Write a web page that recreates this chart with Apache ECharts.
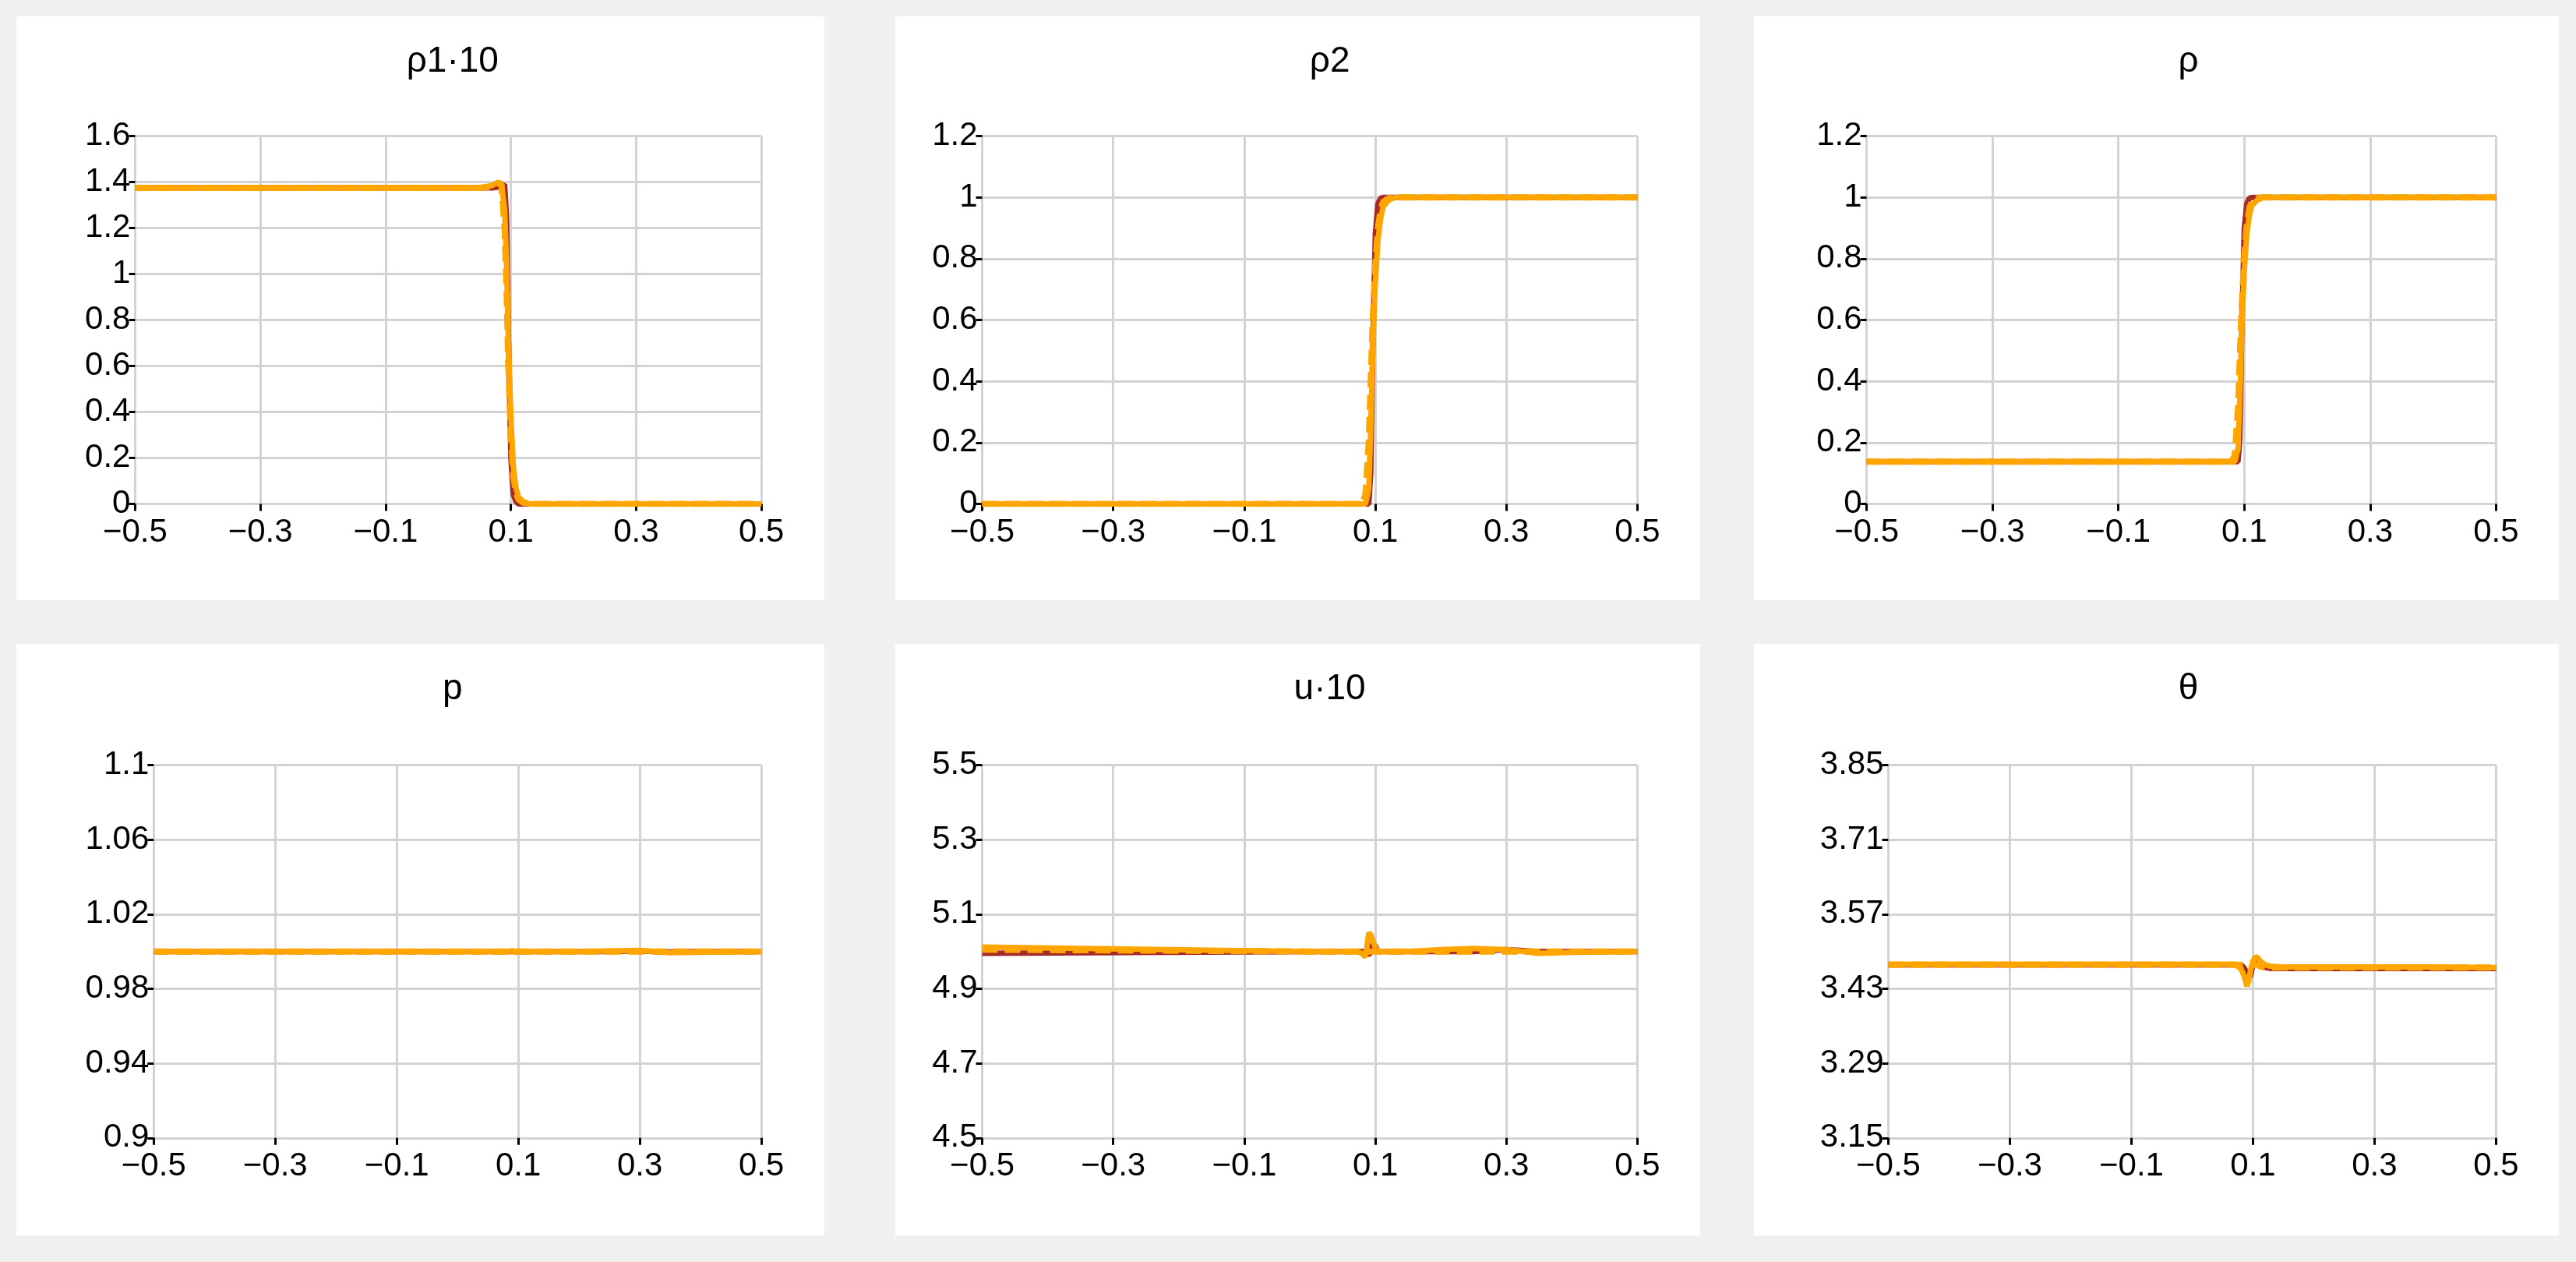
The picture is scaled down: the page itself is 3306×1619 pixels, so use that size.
<!DOCTYPE html>
<html>
<head>
<meta charset="utf-8">
<script src="https://cdn.jsdelivr.net/npm/echarts@6/dist/echarts.min.js"></script>
<style>html,body{margin:0;padding:0;background:#f0f0f0}#main{width:3306px;height:1619px}</style>
</head>
<body>
<div id="main"></div>
<script>
// x positions shared by all curves
var X = [-0.5, 0, 0.05, 0.07, 0.08, 0.085, 0.09, 0.093, 0.096, 0.1, 0.104, 0.108, 0.112, 0.12, 0.13, 0.15, 0.2, 0.25, 0.3, 0.35, 0.4, 0.5];

var titles = ['ρ1·10', 'ρ2', 'ρ', 'p', 'u·10', 'θ'];

// y axis ranges: min, max, interval
var yMin = [0, 0, 0, 0.9, 4.5, 3.15];
var yMax = [1.6, 1.2, 1.2, 1.1, 5.5, 3.85];
var yStep = [0.2, 0.2, 0.2, 0.04, 0.2, 0.14];

// ρ1·10
var rho1Dark = [1.375,1.375,1.375,1.375,1.378,1.382,1.39,1.25,0.75,0.2,0.04,0.01,0,0,0,0,0,0,0,0,0,0];
var rho1Dash = [1.375,1.375,1.375,1.38,1.395,1.39,1.2,0.95,0.6,0.3,0.12,0.05,0.02,0.005,0,0,0,0,0,0,0,0];
var rho1Org  = [1.375,1.375,1.375,1.385,1.4,1.39,1.28,1.05,0.72,0.38,0.16,0.07,0.03,0.01,0,0,0,0,0,0,0,0];
// ρ2
var rho2Dark = [0,0,0,0,0,0,0,0.1,0.5,0.88,0.98,0.997,1,1,1,1,1,1,1,1,1,1];
var rho2Dash = [0,0,0,0,0,0.03,0.2,0.4,0.6,0.78,0.9,0.96,0.985,0.997,1,1,1,1,1,1,1,1];
var rho2Org  = [0,0,0,0,0,0,0.05,0.25,0.5,0.72,0.86,0.93,0.97,0.99,1,1,1,1,1,1,1,1];
// ρ
var rhoDark = [0.138,0.138,0.138,0.138,0.138,0.138,0.138,0.22,0.57,0.9,0.98,0.997,1,1,1,1,1,1,1,1,1,1];
var rhoDash = [0.138,0.138,0.138,0.138,0.138,0.16,0.31,0.48,0.65,0.81,0.91,0.965,0.987,0.997,1,1,1,1,1,1,1,1];
var rhoOrg  = [0.138,0.138,0.138,0.138,0.138,0.138,0.18,0.35,0.57,0.76,0.88,0.94,0.974,0.99,1,1,1,1,1,1,1,1];
// p
var pDark = [1,1,1,1,1,1,1,1,1,1,1,1,1,1,1,1,1,1,1.0003,0.9998,1,1];
var pDash = [1,1,1,1,1,1,1,1,1,1,1,1,1,1,1,1,1,1,1,1,1,1];
var pOrg  = [1,1,1,1,1,1,1.0005,1,0.9995,1,1,1,1,1,1,1,1,1.0003,1.0006,0.9993,0.9997,1];
// u·10
var uDark = [4.995,5,5,5,5,5,4.99,5.0,5.02,5.015,5.0,5,5,5,5,5,5,5,5.005,5,5,5];
var uDash = [5.005,5,5,5,5,5,5,5,5,5,5,5,5,5,5,5,5,5,5,5,5,5];
var uOrg  = [5.012,5,5,5,4.995,4.985,5.05,5.045,5.03,5.01,5.0,5,5,5,5,5,5.005,5.008,5.005,4.995,4.998,5];
// θ
var thDark = [3.475,3.475,3.475,3.475,3.475,3.47,3.46,3.45,3.455,3.475,3.482,3.478,3.472,3.47,3.468,3.468,3.468,3.468,3.468,3.468,3.468,3.468];
var thDash = [3.475,3.475,3.475,3.475,3.475,3.475,3.475,3.475,3.475,3.475,3.475,3.475,3.472,3.47,3.47,3.47,3.47,3.47,3.47,3.47,3.47,3.47];
var thOrg  = [3.476,3.476,3.476,3.476,3.468,3.455,3.435,3.445,3.465,3.482,3.49,3.488,3.482,3.475,3.472,3.471,3.471,3.471,3.471,3.471,3.471,3.47];

var dark = [rho1Dark, rho2Dark, rhoDark, pDark, uDark, thDark];
var dash = [rho1Dash, rho2Dash, rhoDash, pDash, uDash, thDash];
var org  = [rho1Org, rho2Org, rhoOrg, pOrg, uOrg, thOrg];

// white panels [x, y, w, h]
var panels = [
    [21, 21, 1037, 749], [1149, 21, 1033, 749], [2251, 21, 1033, 749],
    [21, 826, 1037, 759], [1149, 826, 1033, 759], [2251, 826, 1033, 759]
];
var leftFrac = [0.147, 0.108, 0.14, 0.17, 0.108, 0.167];

function pairs(ys) {
    return X.map(function (x, i) { return [x, ys[i]]; });
}
function fmtY(v) {
    return String(parseFloat(v.toFixed(2)));
}

var chart = echarts.init(document.getElementById('main'));
var graphic = [], title = [], grid = [], xAxis = [], yAxis = [], series = [];
var font = 'Liberation Sans Narrow, Liberation Sans';

panels.forEach(function (p, i) {
    graphic.push({type: 'rect', z: -10, shape: {x: p[0], y: p[1], width: p[2], height: p[3]}, style: {fill: '#fff'}});
    title.push({
        text: titles[i], left: p[0] + p[2] * 0.535, top: p[1] + p[3] * 0.04, textAlign: 'center',
        textStyle: {fontFamily: 'Liberation Sans', fontWeight: 'normal', fontSize: 46, color: '#000'}
    });
    var gl = p[0] + p[2] * leftFrac[i];
    var gr = p[0] + p[2] * 0.922;
    var gt = p[1] + p[3] * 0.205;
    var gb = p[1] + p[3] * 0.835;
    grid.push({left: gl, top: gt, width: gr - gl, height: gb - gt});
    xAxis.push({
        type: 'value', gridIndex: i, min: -0.5, max: 0.5, interval: 0.2,
        axisLine: {onZero: false, lineStyle: {color: '#d3d3d3', width: 3}},
        axisTick: {show: true, length: 9, lineStyle: {color: '#000', width: 3}},
        splitLine: {lineStyle: {color: '#d3d3d3', width: 3}},
        axisLabel: {
            fontFamily: font, fontSize: 42, color: '#000', margin: 16,
            formatter: function (v) { return String(parseFloat(v.toFixed(2))).replace('-', '−'); }
        }
    });
    yAxis.push({
        type: 'value', gridIndex: i, min: yMin[i], max: yMax[i], interval: yStep[i],
        axisLine: {show: true, onZero: false, lineStyle: {color: '#d3d3d3', width: 3}},
        axisTick: {show: true, length: 8, lineStyle: {color: '#000', width: 3}},
        splitLine: {lineStyle: {color: '#d3d3d3', width: 3}},
        axisLabel: {fontFamily: font, fontSize: 42, color: '#000', margin: 6, formatter: fmtY}
    });
    series.push({
        type: 'line', xAxisIndex: i, yAxisIndex: i, data: pairs(dark[i]), showSymbol: false,
        lineStyle: {color: '#a52a2a', width: 7}, z: 2
    });
    series.push({
        type: 'line', xAxisIndex: i, yAxisIndex: i, data: pairs(dash[i]), showSymbol: false,
        lineStyle: {color: '#ffa500', width: 8, type: [20, 9]}, z: 3
    });
    series.push({
        type: 'line', xAxisIndex: i, yAxisIndex: i, data: pairs(org[i]), showSymbol: false,
        lineStyle: {color: '#ffa500', width: 7}, z: 4
    });
});

chart.setOption({
    backgroundColor: '#f0f0f0',
    animation: false,
    graphic: graphic,
    title: title,
    grid: grid,
    xAxis: xAxis,
    yAxis: yAxis,
    series: series
});
</script>
</body>
</html>
